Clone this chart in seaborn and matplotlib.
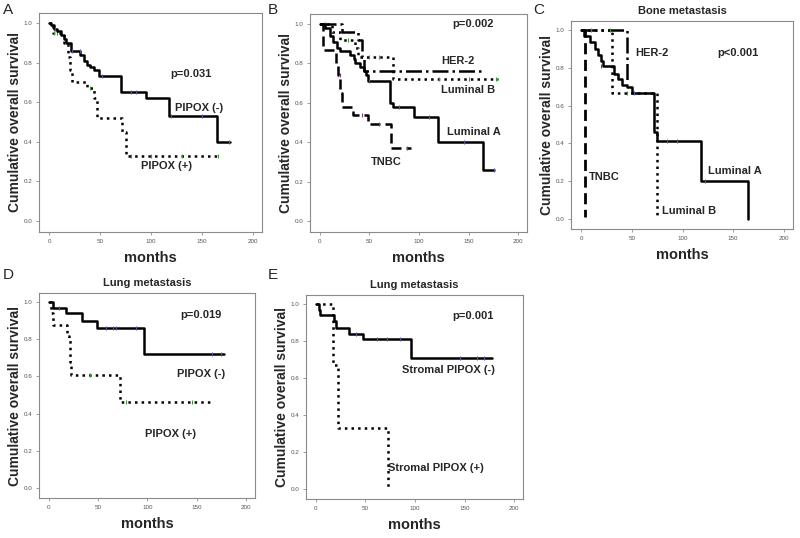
import numpy as np
import pandas as pd
import seaborn as sns
import matplotlib
matplotlib.use("Agg")
import matplotlib.pyplot as plt

# ---- data: step survival curves (time of change, survival from that time) ----
# Panel A
a_neg_t = [0, 2, 5, 8, 12, 15, 17, 21, 30, 34, 37, 40, 44, 49, 71, 95, 118, 165, 178]
a_neg_s = [1.00, 0.99, 0.97, 0.96, 0.94, 0.92, 0.90, 0.86, 0.84, 0.81, 0.79, 0.78, 0.76, 0.73, 0.65, 0.62, 0.53, 0.40, 0.40]
a_pos_t = [0, 4, 15, 18, 20, 22, 37, 44, 47, 72, 75, 166]
a_pos_s = [1.00, 0.95, 0.90, 0.83, 0.76, 0.70, 0.67, 0.62, 0.52, 0.45, 0.33, 0.33]

# Panel B
b_luma_t = [0, 5, 10, 13, 17, 20, 30, 34, 35, 40, 45, 47, 49, 71, 74, 95, 119, 165, 176]
b_luma_s = [1.00, 0.98, 0.94, 0.91, 0.88, 0.86, 0.84, 0.82, 0.80, 0.78, 0.76, 0.74, 0.71, 0.60, 0.58, 0.53, 0.40, 0.26, 0.26]
b_tnbc_t = [0, 3, 16, 18, 20, 22, 33, 49, 72, 92]
b_tnbc_s = [1.00, 0.87, 0.80, 0.74, 0.65, 0.58, 0.54, 0.49, 0.37, 0.37]
b_her2_t = [0, 22, 38, 42, 45, 165]
b_her2_s = [1.00, 0.96, 0.92, 0.83, 0.76, 0.76]
b_lumb_t = [0, 12, 20, 35, 38, 74, 180]
b_lumb_s = [1.00, 0.96, 0.92, 0.88, 0.83, 0.72, 0.72]

# Panel C - bone metastasis
c_luma_t = [0, 3, 9, 14, 17, 20, 22, 32, 36, 40, 45, 50, 72, 75, 118, 165]
c_luma_s = [1.00, 0.97, 0.94, 0.90, 0.87, 0.84, 0.81, 0.77, 0.74, 0.71, 0.70, 0.67, 0.46, 0.41, 0.20, 0.00]
c_tnbc_t = [0, 4]
c_tnbc_s = [1.00, 0.01]
c_her2_t = [0, 45]
c_her2_s = [1.00, 0.72]
c_lumb_t = [0, 30, 75]
c_lumb_s = [1.00, 0.67, 0.00]

# Panel D - lung metastasis
d_neg_t = [0, 4, 17, 34, 49, 96, 178]
d_neg_s = [1.00, 0.97, 0.94, 0.90, 0.86, 0.72, 0.72]
d_pos_t = [0, 2, 4, 18, 20, 21, 22, 72, 166]
d_pos_s = [1.00, 0.94, 0.88, 0.82, 0.81, 0.68, 0.61, 0.46, 0.46]

# Panel E - lung metastasis, stromal
e_neg_t = [0, 3, 4, 18, 20, 33, 48, 96, 178]
e_neg_s = [1.00, 0.97, 0.94, 0.91, 0.87, 0.84, 0.81, 0.71, 0.71]
e_pos_t = [0, 17, 22, 73]
e_pos_s = [1.00, 0.67, 0.33, 0.00]

# censored observations (time, survival)
a_neg_c = [(6, 0.97), (22, 0.86), (30, 0.86), (52, 0.73), (80, 0.65), (85, 0.65), (120, 0.53), (150, 0.53), (177, 0.40)]
a_pos_c = [(5, 0.95), (8, 0.95), (12, 0.95), (40, 0.67), (80, 0.33), (100, 0.33), (130, 0.33), (166, 0.33)]
b_luma_c = [(50, 0.71), (80, 0.58), (110, 0.53), (145, 0.40), (176, 0.26)]
b_tnbc_c = [(20, 0.74), (42, 0.54), (60, 0.49), (88, 0.37)]
b_lumb_c = [(5, 1.0), (28, 0.92), (50, 0.83), (60, 0.83), (120, 0.72), (150, 0.72), (178, 0.72)]
c_luma_c = [(20, 0.81), (52, 0.67), (85, 0.41), (95, 0.41), (122, 0.20)]
c_lumb_c = [(10, 1.0), (28, 1.0), (45, 0.67)]
d_neg_c = [(10, 0.97), (58, 0.86), (65, 0.86), (68, 0.86), (88, 0.86), (165, 0.72), (175, 0.72)]
d_pos_c = [(42, 0.61), (78, 0.46), (145, 0.46)]
e_neg_c = [(40, 0.84), (62, 0.81), (72, 0.81), (85, 0.81), (145, 0.71), (163, 0.71), (170, 0.71)]

blue = "#4a5aa8"
green = "#3a9a3a"
purple = "#8a3a8a"

sns.set_style("white")
plt.rcParams["font.family"] = ["Liberation Sans", "DejaVu Sans"]

fig = plt.figure(figsize=(8, 5.38), dpi=100)
W, H = 800, 538


def box(l, r, t, b):
    return [l / W, 1 - b / H, (r - l) / W, (b - t) / H]


def curve(ax, t, s, ls, lw=1.8, cens=None, ccol=blue):
    df = pd.DataFrame({"t": t, "s": s})
    sns.lineplot(data=df, x="t", y="s", ax=ax, color="black", linestyle=ls,
                 linewidth=lw, drawstyle="steps-post", estimator=None, sort=False)
    if cens:
        cx, cy = zip(*cens)
        ax.plot(cx, cy, linestyle="none", marker="|", color=ccol, ms=3, mew=0.8)


def frame(ax, title=None):
    ax.set_xlim(-10, 209)
    ax.set_ylim(-0.055, 1.05)
    ax.set_xticks([0, 50, 100, 150, 200])
    ax.set_yticks([0.0, 0.2, 0.4, 0.6, 0.8, 1.0])
    ax.set_yticklabels(["0.0", "0.2", "0.4", "0.6", "0.8", "1.0"])
    ax.tick_params(labelsize=4.5, labelcolor="#555555", length=2, width=0.5,
                   color="#777777", pad=3, bottom=True, left=True)
    for sp in ax.spines.values():
        sp.set_color("#8a8a8a")
        sp.set_linewidth(0.8)
    ax.set_xlabel("months", fontsize=10.5, fontweight="bold", labelpad=5)
    ax.set_ylabel("Cumulative overall survival", fontsize=10, fontweight="bold", labelpad=1)
    if title:
        ax.set_title(title, fontsize=8, fontweight="bold", pad=5)


def note(ax, x, y, s):
    ax.text(x, y, s, fontsize=8, fontweight="bold", ha="center", va="center")


# A
axA = fig.add_axes(box(39, 262, 13, 232))
curve(axA, a_pos_t, a_pos_s, ":", cens=a_pos_c, ccol=green)
curve(axA, a_neg_t, a_neg_s, "-", cens=a_neg_c)
frame(axA)
note(axA, 139, 0.74, "p=0.031")
note(axA, 147, 0.57, "PIPOX (-)")
note(axA, 115, 0.28, "PIPOX (+)")

# B
axB = fig.add_axes(box(310, 527, 14, 232))
curve(axB, b_her2_t, b_her2_s, "-.")
curve(axB, b_lumb_t, b_lumb_s, ":", cens=b_lumb_c, ccol=green)
curve(axB, b_tnbc_t, b_tnbc_s, (0, (4, 2)), cens=b_tnbc_c, ccol=purple)
curve(axB, b_luma_t, b_luma_s, "-", cens=b_luma_c)
frame(axB)
note(axB, 155, 1.0, "p=0.002")
note(axB, 139, 0.81, "HER-2")
note(axB, 150, 0.665, "Luminal B")
note(axB, 155, 0.45, "Luminal A")
note(axB, 67, 0.30, "TNBC")

# C
axC = fig.add_axes(box(571, 793, 21, 229))
curve(axC, c_her2_t, c_her2_s, "-.")
curve(axC, c_lumb_t, c_lumb_s, ":", cens=c_lumb_c, ccol=green)
curve(axC, c_tnbc_t, c_tnbc_s, (0, (4, 2)), lw=2.0)
curve(axC, c_luma_t, c_luma_s, "-", cens=c_luma_c)
frame(axC, "Bone metastasis")
note(axC, 70, 0.88, "HER-2")
note(axC, 155, 0.88, "p<0.001")
note(axC, 23, 0.22, "TNBC")
note(axC, 152, 0.255, "Luminal A")
note(axC, 106, 0.04, "Luminal B")

# D
axD = fig.add_axes(box(39, 255, 293, 498))
curve(axD, d_pos_t, d_pos_s, ":", cens=d_pos_c, ccol=green)
curve(axD, d_neg_t, d_neg_s, "-", cens=d_neg_c)
frame(axD, "Lung metastasis")
note(axD, 154, 0.93, "p=0.019")
note(axD, 154, 0.613, "PIPOX (-)")
note(axD, 123, 0.29, "PIPOX (+)")

# E
axE = fig.add_axes(box(306, 523, 295, 499))
curve(axE, e_pos_t, e_pos_s, ":")
curve(axE, e_neg_t, e_neg_s, "-", cens=e_neg_c)
frame(axE, "Lung metastasis")
note(axE, 159, 0.936, "p=0.001")
note(axE, 134, 0.645, "Stromal PIPOX (-)")
note(axE, 121, 0.115, "Stromal PIPOX (+)")

# panel letters
for lab, x, y in [("A", 3, 3), ("B", 268, 3), ("C", 533, 3), ("D", 3, 268), ("E", 268, 268)]:
    fig.text(x / W, 1 - y / H, lab, fontsize=11, ha="left", va="top")

fig.savefig("out.png", dpi=100)
